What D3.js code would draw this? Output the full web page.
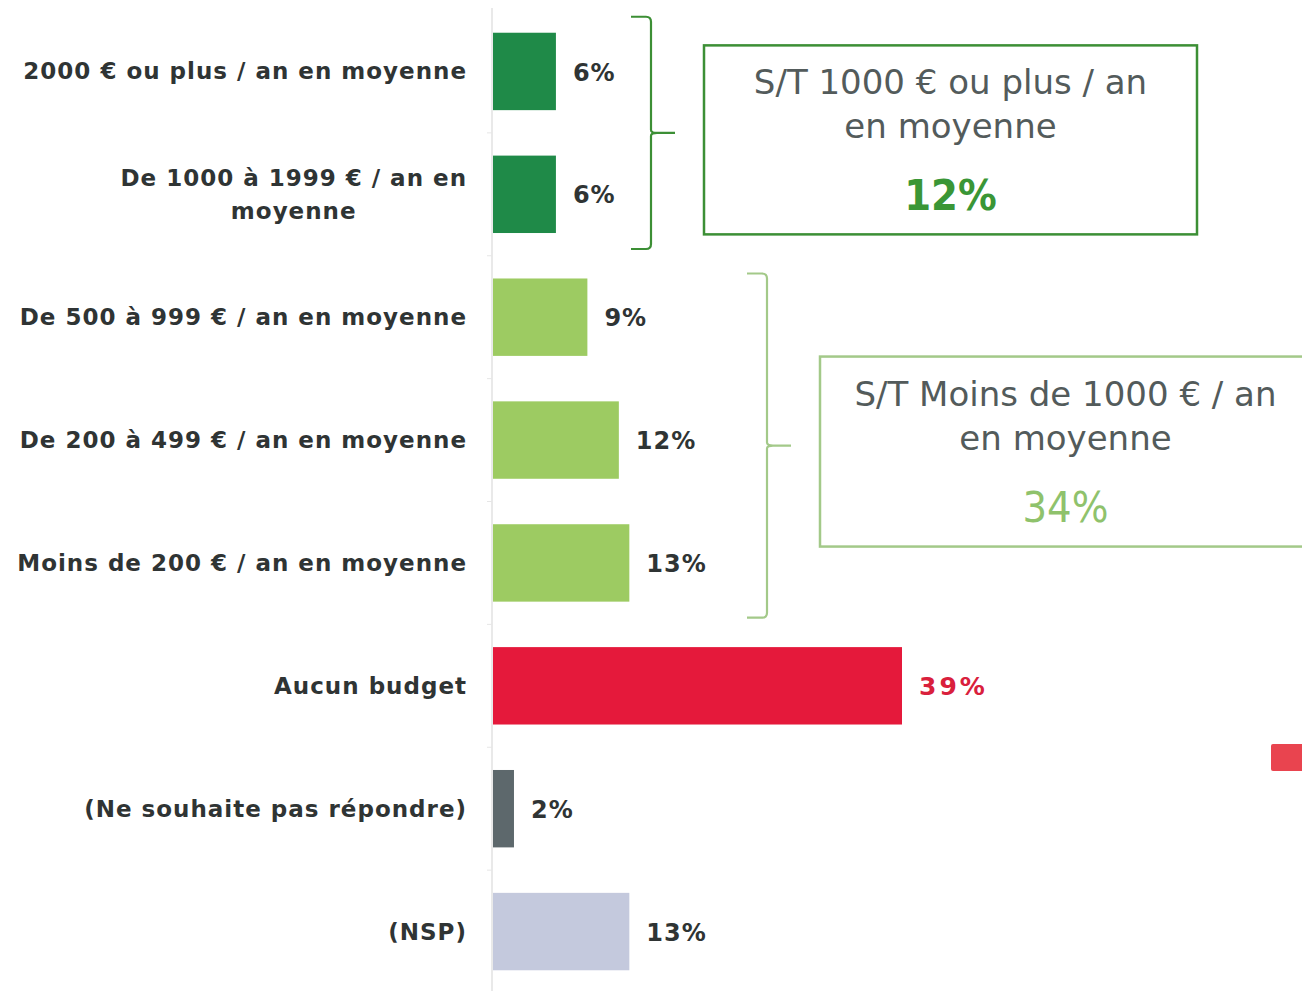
<!DOCTYPE html>
<html>
<head>
<meta charset="utf-8">
<script src="https://cdn.jsdelivr.net/npm/d3@7"></script>
<style>
  html, body { margin: 0; padding: 0; background: #ffffff; }
  svg { display: block; }
</style>
</head>
<body>
<svg id="chart" width="1302" height="991"></svg>
<script>
// ---- data ----
const categories = [
  "2000 € ou plus / an en moyenne",
  "De 1000 à 1999 € / an en|moyenne",
  "De 500 à 999 € / an en moyenne",
  "De 200 à 499 € / an en moyenne",
  "Moins de 200 € / an en moyenne",
  "Aucun budget",
  "(Ne souhaite pas répondre)",
  "(NSP)"
];
const values = [6, 6, 9, 12, 13, 39, 2, 13];
const barColors = ["#1f8a48", "#1f8a48", "#9dcb62", "#9dcb62", "#9dcb62", "#e5193b", "#5d686c", "#c4c9dd"];
const valueColors = ["#2f3434", "#2f3434", "#2f3434", "#2f3434", "#2f3434", "#d9203c", "#2f3434", "#2f3434"];

const groupTitles = [["S/T 1000 € ou plus / an", "en moyenne"], ["S/T Moins de 1000 € / an", "en moyenne"]];
const groupValues = [12, 34];
const groupMembers = [[0, 1], [2, 3, 4]];
const groupColors = ["#3c8f35", "#a3c989"];
const groupValueColors = ["#3a9636", "#8fc26c"];

// ---- layout ----
const svg = d3.select("#chart");
const x0 = 493;
const x = d3.scaleLinear().domain([0, 39]).range([x0, x0 + 409]);
const y = d3.scaleBand().domain(d3.range(categories.length))
  .range([10, 993]).paddingInner(0.37).paddingOuter(0.185);

// faint axis line
svg.append("line")
  .attr("x1", x0 - 1).attr("x2", x0 - 1)
  .attr("y1", 8).attr("y2", 991)
  .attr("stroke", "#e2e2e2").attr("stroke-width", 1.5);

// faint ticks between categories
const step = y.step();
svg.append("g").selectAll("line")
  .data(d3.range(1, categories.length))
  .join("line")
  .attr("x1", x0 - 6).attr("x2", x0 - 1)
  .attr("y1", i => y(i) - (step - y.bandwidth()) / 2)
  .attr("y2", i => y(i) - (step - y.bandwidth()) / 2)
  .attr("stroke", "#e6e6e6");

// bars
svg.append("g").selectAll("rect")
  .data(values)
  .join("rect")
  .attr("x", x(0))
  .attr("y", (d, i) => y(i))
  .attr("width", d => x(d) - x(0))
  .attr("height", y.bandwidth())
  .attr("fill", (d, i) => barColors[i]);

// value labels
svg.append("g").selectAll("text")
  .data(values)
  .join("text")
  .attr("x", d => x(d) + 17)
  .attr("y", (d, i) => y(i) + y.bandwidth() / 2)
  .attr("dy", "0.38em")
  .attr("font-family", "DejaVu Sans")
  .attr("font-weight", "bold")
  .attr("font-size", (d, i) => i === 5 ? 25 : 24)
  .attr("letter-spacing", (d, i) => i === 5 ? 3 : 1)
  .attr("fill", (d, i) => valueColors[i])
  .text(d => d + "%");

// category labels
const labelRight = 467;
const lg = svg.append("g");
categories.forEach((c, i) => {
  const lines = c.split("|");
  const cy = y(i) + y.bandwidth() / 2;
  const lh = 33;
  const t = lg.append("text")
    .attr("font-family", "DejaVu Sans")
    .attr("font-weight", "bold")
    .attr("font-size", 23)
    .attr("letter-spacing", 1)
    .attr("fill", "#2f3434");
  if (lines.length === 1) {
    t.attr("x", labelRight).attr("y", cy).attr("dy", "0.35em")
      .attr("text-anchor", "end").text(lines[0]);
  } else {
    const spans = lines.map((l, k) => t.append("tspan")
      .attr("y", cy + (k - (lines.length - 1) / 2) * lh)
      .attr("dy", "0.35em")
      .text(l));
    const maxW = d3.max(spans, s => s.node().getComputedTextLength());
    t.attr("text-anchor", "middle");
    spans.forEach(s => s.attr("x", labelRight - maxW / 2));
  }
});

// brackets + group boxes
const bracketX = [651, 767];
const bracketTopPad = [16, 5];
const boxes = [
  { x: 704, w: 493, h: 189, dy: 7 },
  { x: 820, w: 491, h: 190, dy: 6 }
];
groupMembers.forEach((m, g) => {
  const top = y(m[0]) - bracketTopPad[g];
  const bot = y(m[m.length - 1]) + y.bandwidth() + 16;
  const mid = (top + bot) / 2;
  const bx = bracketX[g];
  const cap = 20, r = 5, tip = 24;
  const p = d3.path();
  p.moveTo(bx - cap, top);
  p.lineTo(bx - r, top);
  p.quadraticCurveTo(bx, top, bx, top + r);
  p.lineTo(bx, mid - 3);
  p.quadraticCurveTo(bx, mid, bx + 6, mid);
  p.lineTo(bx + tip, mid);
  p.moveTo(bx + 6, mid);
  p.quadraticCurveTo(bx, mid, bx, mid + 3);
  p.lineTo(bx, bot - r);
  p.quadraticCurveTo(bx, bot, bx - r, bot);
  p.lineTo(bx - cap, bot);
  svg.append("path").attr("d", p.toString())
    .attr("fill", "none").attr("stroke", groupColors[g]).attr("stroke-width", 2.2);

  const b = boxes[g];
  const by = mid + b.dy - b.h / 2;
  svg.append("rect")
    .attr("x", b.x).attr("y", by).attr("width", b.w).attr("height", b.h)
    .attr("fill", "#ffffff").attr("stroke", groupColors[g]).attr("stroke-width", 2.5);
  const cx = b.x + b.w / 2;
  groupTitles[g].forEach((line, k) => {
    svg.append("text")
      .attr("x", cx).attr("y", by + 49 + k * 44)
      .attr("text-anchor", "middle")
      .attr("font-family", "DejaVu Sans")
      .attr("font-size", 34)
      .attr("fill", "#535b5b")
      .text(line);
  });
  svg.append("text")
    .attr("x", cx).attr("y", by + 165)
    .attr("text-anchor", "middle")
    .attr("font-family", "DejaVu Sans Condensed, DejaVu Sans")
    .attr("font-weight", g === 0 ? "bold" : "normal")
    .attr("font-size", 43)
    .attr("fill", groupValueColors[g])
    .text(groupValues[g] + "%");
});

// fragment of a neighbouring element on the right edge
svg.append("rect")
  .attr("x", 1271).attr("y", 744).attr("width", 40).attr("height", 27)
  .attr("rx", 2).attr("fill", "#e9444f");
</script>
</body>
</html>
